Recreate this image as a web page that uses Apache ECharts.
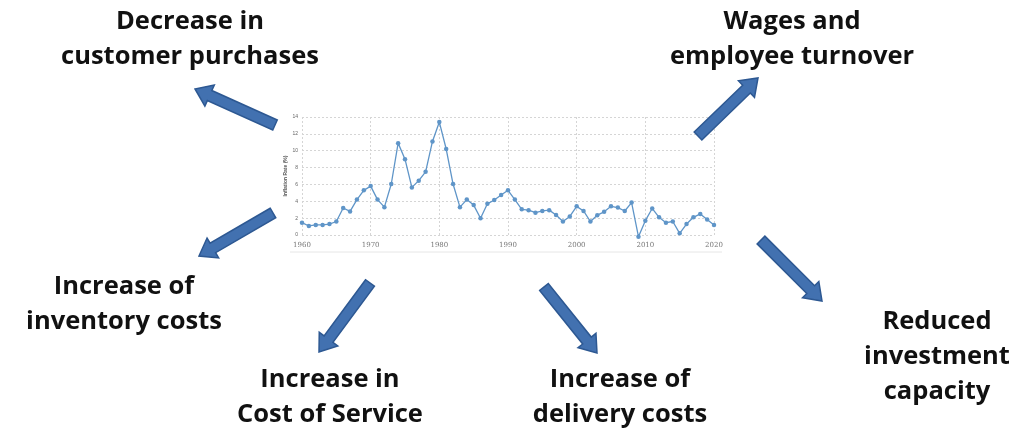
<!DOCTYPE html>
<html>
<head>
<meta charset="utf-8">
<script src="https://cdn.jsdelivr.net/npm/echarts@6/dist/echarts.min.js"></script>
<style>html,body{margin:0;padding:0;background:#fff;}#c{width:1013px;height:428px;}</style>
</head>
<body>
<div id="c"></div>
<script>
const years = [1960,1961,1962,1963,1964,1965,1966,1967,1968,1969,1970,1971,1972,1973,1974,1975,1976,1977,1978,1979,1980,1981,1982,1983,1984,1985,1986,1987,1988,1989,1990,1991,1992,1993,1994,1995,1996,1997,1998,1999,2000,2001,2002,2003,2004,2005,2006,2007,2008,2009,2010,2011,2012,2013,2014,2015,2016,2017,2018,2019,2020];
const inflation = [1.46,1.07,1.2,1.2,1.3,1.6,3.2,2.8,4.2,5.3,5.8,4.2,3.3,6.05,10.9,9.0,5.65,6.45,7.5,11.1,13.4,10.2,6.05,3.3,4.2,3.55,1.98,3.7,4.15,4.75,5.3,4.2,3.05,2.95,2.65,2.85,2.95,2.37,1.6,2.2,3.4,2.85,1.6,2.35,2.75,3.4,3.25,2.85,3.85,-0.2,1.7,3.15,2.1,1.46,1.6,0.2,1.3,2.1,2.5,1.85,1.2];
const yTicks = [0,2,4,6,8,10,12,14];
const xTicks = [1960,1970,1980,1990,2000,2010,2020];
const yAxisName = 'Inflation Rate (%)';
const labels = [
  ['Decrease in','customer purchases'],
  ['Wages and','employee turnover'],
  ['Increase of','inventory costs'],
  ['Increase in','Cost of Service'],
  ['Increase of','delivery costs'],
  ['Reduced','investment','capacity']
];

// layout (positions, not data)
const labelPos = [[190,22],[792,22],[124,287],[330,380],[620,380],[937,322]];
const arrows = [
  [[275,125],[195,89]],
  [[698,136],[758,78]],
  [[273,213],[199,256]],
  [[370,283],[319,352]],
  [[544,287],[597,353]],
  [[761,240],[822,301]]
];

function arrowPoly(t, h) {
  const dx = h[0]-t[0], dy = h[1]-t[1];
  const L = Math.sqrt(dx*dx+dy*dy);
  const ux = dx/L, uy = dy/L, px = -uy, py = ux;
  const sw = 5.5, hw = 11.5, hl = 16;
  const bx = h[0]-ux*hl, by = h[1]-uy*hl;
  return [
    [t[0]+px*sw, t[1]+py*sw],
    [bx+px*sw, by+py*sw],
    [bx+px*hw, by+py*hw],
    [h[0], h[1]],
    [bx-px*hw, by-py*hw],
    [bx-px*sw, by-py*sw],
    [t[0]-px*sw, t[1]-py*sw]
  ];
}

const LH = 35;
const graphics = [];
labels.forEach((lines, i) => {
  graphics.push({
    type: 'text',
    x: labelPos[i][0], y: labelPos[i][1] + (lines.length-1)*LH/2,
    style: {
      text: lines.join('\n'), fill: '#111', font: 'bold 25.5px "Open Sans"',
      align: 'center', verticalAlign: 'middle', lineHeight: LH
    },
    z: 10
  });
});
arrows.forEach(a => {
  graphics.push({
    type: 'polygon',
    shape: { points: arrowPoly(a[0], a[1]) },
    style: { fill: '#4271b0', stroke: '#2d5892', lineWidth: 1.5 },
    z: 10
  });
});
graphics.push({
  type: 'line', shape: {x1: 290, y1: 252, x2: 722, y2: 252},
  style: {stroke: '#e6e6e6', lineWidth: 1}
});

const chart = echarts.init(document.getElementById('c'), null, {renderer: 'canvas'});
chart.setOption({
  backgroundColor: '#fff',
  animation: false,
  grid: { left: 302, right: 299, top: 117, bottom: 193 },
  xAxis: {
    type: 'value', min: xTicks[0], max: xTicks[xTicks.length-1], interval: 10,
    axisLine: { show: false }, axisTick: { show: false },
    axisLabel: { fontSize: 7, color: '#777', margin: 7, fontFamily: 'DejaVu Serif', formatter: v => String(v) },
    splitLine: { show: true, lineStyle: { type: [2,2], color: '#d5d5d5', width: 1 } }
  },
  yAxis: {
    type: 'value', min: yTicks[0], max: yTicks[yTicks.length-1], interval: 2,
    name: yAxisName, nameLocation: 'middle', nameGap: 11,
    nameTextStyle: { fontSize: 5, color: '#555', fontWeight: 'bold' },
    axisLine: { show: false }, axisTick: { show: false },
    axisLabel: { fontSize: 5, color: '#666', margin: 4 },
    splitLine: { show: true, lineStyle: { type: [2,2], color: '#d5d5d5', width: 1 } }
  },
  series: [{
    type: 'line',
    data: years.map((y, i) => [y, inflation[i]]),
    symbol: 'circle', symbolSize: 4.5, clip: false,
    lineStyle: { color: '#5f95c8', width: 1.3 },
    itemStyle: { color: '#5f95c8' }
  }],
  graphic: graphics
});
</script>
</body>
</html>
